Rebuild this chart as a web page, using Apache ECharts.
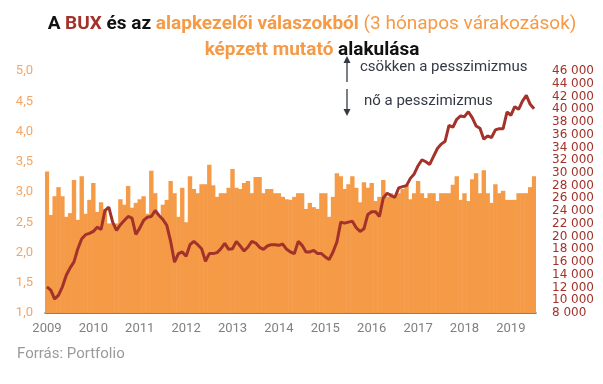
<!DOCTYPE html>
<html>
<head>
<meta charset="utf-8">
<script src="https://cdn.jsdelivr.net/npm/echarts@6/dist/echarts.min.js"></script>
<style>
html,body{margin:0;padding:0;background:#fff;}
#c{width:603px;height:384px;}
</style>
</head>
<body>
<div id="c"></div>
<script>
// Year tick labels (January of each year)
const years = ['2009','2010','2011','2012','2013','2014','2015','2016','2017','2018','2019'];
const lastMonthOf2019 = 7;

// Fund manager survey index (left axis, bars), monthly Jan 2009 - Jul 2019
const indexValues = [
3.34,2.62,2.93,3.08,2.93,2.59,2.65,3.20,2.54,3.26,2.64,2.87,
3.15,2.67,2.83,2.72,2.48,2.48,2.48,2.88,2.79,3.10,2.74,2.82,
2.88,2.93,2.64,3.35,2.98,2.60,2.79,2.87,3.18,2.98,2.59,3.07,
2.50,3.26,3.05,2.98,3.13,3.13,3.45,3.11,2.92,2.98,2.98,3.07,
3.38,3.07,3.05,3.15,3.18,2.98,3.25,3.25,2.98,3.05,3.05,2.98,
2.98,2.92,2.88,2.87,2.92,2.98,2.98,2.72,2.82,2.75,2.72,2.98,
2.98,2.59,2.92,3.31,3.26,3.05,3.13,3.26,3.07,2.83,3.16,3.07,
3.15,2.85,2.92,3.20,2.92,2.98,2.92,2.98,3.05,3.12,2.88,2.98,
3.18,2.98,2.90,2.98,2.98,2.85,2.98,2.98,2.98,3.12,3.26,2.87,
2.98,2.85,3.21,3.31,2.98,3.36,2.98,2.82,3.13,2.98,3.02,2.87,
2.87,2.87,2.98,2.98,2.98,3.08,3.26
];

// BUX index (right axis, line), monthly Jan 2009 - Jul 2019
const buxValues = [
12110,11590,10190,10810,12110,13940,15080,16020,18100,19670,20300,20500,
20810,21480,21120,24090,24610,22270,20970,21860,22530,23160,22890,20340,
21330,22530,23050,23160,24090,23310,22690,21750,19250,15970,17330,17580,
16910,18730,19250,18730,18100,16125,17330,17330,17480,18100,18940,18000,
18100,19250,18520,17740,18360,19250,18990,18310,18000,18520,18730,18730,
18625,18830,18000,17580,17330,19250,18625,17580,17580,17840,17330,17330,
16800,16390,17580,19140,22270,22110,22270,22420,21390,20810,21230,23470,
23890,23890,23160,26070,26800,26440,26170,27640,27840,28000,29140,29830,
31125,32060,31750,31330,32580,33830,34520,34980,37480,37170,38420,38940,
38830,39610,38670,37375,37010,35300,35810,35550,36750,36950,36950,39560,
39050,40390,39980,41280,42170,40770,40080
];

const months = [];
years.forEach(function(y){
  for (let m = 1; m <= 12; m++) {
    if (y === '2019' && m > lastMonthOf2019) break;
    months.push(y + '-' + (m < 10 ? '0' + m : m));
  }
});

const ORANGE = '#f59a46';
const DARKRED = '#a3322a';

const chart = echarts.init(document.getElementById('c'), null, {renderer:'canvas'});
chart.setOption({
  animation: false,
  backgroundColor: '#ffffff',
  textStyle: {fontFamily: 'Roboto'},
  title: {
    left: 307,
    textAlign: 'center',
    top: 6,
    text: '{k|A }{r|BUX}{k| és az }{o|alapkezelői válaszokból}{l| (3 hónapos várakozások)}\n{o|képzett mutató}{k| alakulása}',
    textStyle: {
      fontFamily: 'Roboto',
      lineHeight: 26,
      rich: {
        k: {color:'#111111', fontWeight:'bold', fontSize:19, fontFamily:'Roboto', lineHeight:26},
        r: {color:DARKRED, fontWeight:'bold', fontSize:19, fontFamily:'Roboto', lineHeight:26},
        o: {color:ORANGE, fontWeight:'bold', fontSize:19, fontFamily:'Roboto', lineHeight:26},
        l: {color:ORANGE, fontWeight:'normal', fontSize:19, fontFamily:'Roboto', lineHeight:26}
      }
    }
  },
  grid: {left: 45, right: 67, top: 71, bottom: 71, containLabel: false},
  xAxis: {
    type: 'category',
    data: months,
    boundaryGap: true,
    axisLine: {show: true, lineStyle: {color: '#2e6b6e', width: 1.5}},
    axisTick: {show: false},
    axisLabel: {
      color: '#808080',
      fontSize: 13,
      fontFamily: 'Roboto',
      margin: 9,
      interval: function(i){ return i % 12 === 0; },
      formatter: function(v){ return v.slice(0,4); }
    },
    splitLine: {show: false}
  },
  yAxis: [
    {
      type: 'value', min: 1, max: 5, interval: 0.5, position: 'left',
      axisLine: {show: false}, axisTick: {show: false}, splitLine: {show: false},
      axisLabel: {color: '#f5a565', fontSize: 13, fontFamily: 'Roboto', margin: 12,
        showMinLabel: true, showMaxLabel: true,
        formatter: function(v){ return v.toFixed(1).replace('.', ','); }}
    },
    {
      type: 'value', min: 8000, max: 46000, interval: 2000, position: 'right',
      axisLine: {show: false}, axisTick: {show: false}, splitLine: {show: false},
      axisLabel: {color: DARKRED, fontSize: 12, lineHeight: 12, fontFamily: 'DejaVu Sans', margin: 16,
        showMinLabel: true, showMaxLabel: true, hideOverlap: false,
        formatter: function(v){ return String(v).replace(/\B(?=(\d{3})+(?!\d))/g, ' '); }}
    }
  ],
  series: [
    {
      type: 'bar', yAxisIndex: 0, data: indexValues,
      barWidth: 4.4, clip: true,
      itemStyle: {color: ORANGE}
    },
    {
      type: 'line', yAxisIndex: 1, data: buxValues,
      symbol: 'none', smooth: false,
      lineStyle: {color: DARKRED, width: 3}, z: 5
    }
  ],
  graphic: [
    {type:'line', shape:{x1:347, y1:62, x2:347, y2:82}, style:{stroke:'#333a44', lineWidth:1.3}},
    {type:'polygon', shape:{points:[[347,56],[343.5,63],[350.5,63]]}, style:{fill:'#333a44'}},
    {type:'text', left:360, top:60, style:{text:'csökken a pesszimizmus', fill:'#333a44', font:'15px Roboto'}},
    {type:'line', shape:{x1:347, y1:89, x2:347, y2:110}, style:{stroke:'#333a44', lineWidth:1.3}},
    {type:'polygon', shape:{points:[[347,116],[343.5,109],[350.5,109]]}, style:{fill:'#333a44'}},
    {type:'text', left:364, top:94, style:{text:'nő a pesszimizmus', fill:'#333a44', font:'15px Roboto'}},
    {type:'text', left:17, top:347, style:{text:'Forrás: Portfolio', fill:'#9a9a9a', font:'15px Roboto'}}
  ]
});
</script>
</body>
</html>
